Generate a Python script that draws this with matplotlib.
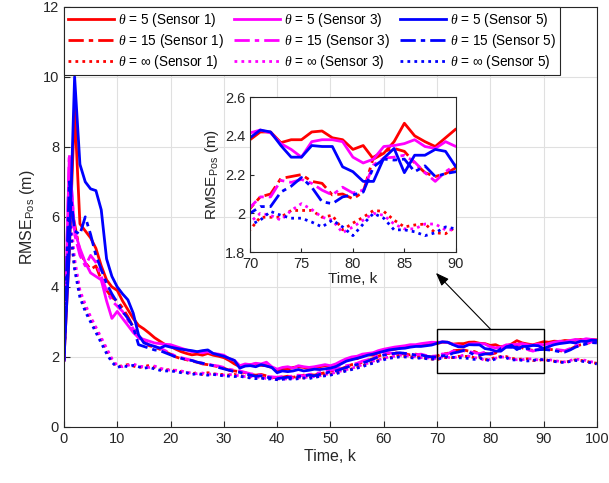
import matplotlib
matplotlib.use('Agg')
import matplotlib.pyplot as plt
from matplotlib.patches import Rectangle
import numpy as np

plt.rcParams['font.family'] = ['Liberation Sans', 'DejaVu Sans']
plt.rcParams['mathtext.fontset'] = 'custom'
plt.rcParams['mathtext.rm'] = 'Liberation Sans'
plt.rcParams['mathtext.it'] = 'Liberation Serif:italic'
plt.rcParams['mathtext.fallback'] = 'stix'

k = np.arange(0, 101)

# theta = 5
rs = [1.9, 5.0, 9.1, 5.8, 5.6, 5.4, 5.1, 4.6, 4.2, 4.0,
      3.9, 3.6, 3.35, 3.1, 2.9, 2.8, 2.68, 2.55, 2.45, 2.35,
      2.3, 2.22, 2.15, 2.1, 2.06, 2.08, 2.05, 2.1, 2.05, 2.02,
      1.98, 1.9, 1.8, 1.72, 1.75, 1.78, 1.8, 1.76, 1.75, 1.7,
      1.62, 1.66, 1.65, 1.7, 1.72, 1.7, 1.66, 1.7, 1.72, 1.75,
      1.72, 1.76, 1.85, 1.9, 1.95, 1.95, 2.02, 2.06, 2.05, 2.12,
      2.18, 2.2, 2.22, 2.25, 2.3, 2.3, 2.32, 2.36, 2.35, 2.37,
      2.38, 2.42, 2.42, 2.365, 2.38, 2.38, 2.42, 2.425, 2.39, 2.38,
      2.33, 2.35, 2.28, 2.31, 2.37, 2.465, 2.40, 2.37, 2.345, 2.39, 2.435,
      2.42, 2.45, 2.44, 2.47, 2.46, 2.48, 2.5, 2.47, 2.5, 2.49]
ms = [1.9, 7.7, 5.6, 5.1, 4.7, 4.4, 4.3, 4.2, 3.6, 3.1,
      3.3, 3.1, 2.9, 2.7, 2.55, 2.5, 2.45, 2.4, 2.38, 2.36,
      2.35, 2.3, 2.25, 2.2, 2.15, 2.15, 2.12, 2.15, 2.1, 2.08,
      2.05, 1.95, 1.9, 1.75, 1.8, 1.78, 1.82, 1.8, 1.85, 1.72,
      1.65, 1.7, 1.72, 1.68, 1.75, 1.72, 1.7, 1.72, 1.75, 1.78,
      1.75, 1.8, 1.88, 1.95, 2.0, 2.02, 2.08, 2.1, 2.12, 2.18,
      2.22, 2.25, 2.28, 2.3, 2.32, 2.35, 2.35, 2.38, 2.4, 2.42,
      2.415, 2.43, 2.415, 2.36, 2.33, 2.29, 2.37, 2.38, 2.38, 2.37,
      2.29, 2.26, 2.28, 2.345, 2.35, 2.36, 2.38, 2.345, 2.335, 2.37, 2.345,
      2.38, 2.42, 2.45, 2.43, 2.47, 2.5, 2.48, 2.52, 2.5, 2.48]
bs = [1.9, 5.0, 10.0, 7.5, 7.0, 6.8, 6.75, 6.2, 4.8, 4.3,
      4.0, 3.8, 3.63, 3.25, 2.63, 2.4, 2.35, 2.3, 2.25, 2.32,
      2.28, 2.25, 2.22, 2.2, 2.18, 2.15, 2.18, 2.2, 2.1, 2.06,
      2.02, 1.96, 1.9, 1.68, 1.74, 1.75, 1.72, 1.78, 1.74, 1.7,
      1.55, 1.6, 1.58, 1.6, 1.64, 1.6, 1.62, 1.65, 1.64, 1.66,
      1.68, 1.72, 1.8, 1.88, 1.92, 1.96, 2.0, 2.05, 2.08, 2.12,
      2.16, 2.2, 2.22, 2.24, 2.25, 2.28, 2.3, 2.3, 2.32, 2.34,
      2.39, 2.43, 2.42, 2.35, 2.29, 2.29, 2.35, 2.345, 2.345, 2.24,
      2.215, 2.165, 2.165, 2.285, 2.335, 2.21, 2.30, 2.30, 2.33, 2.32, 2.24,
      2.3, 2.35, 2.38, 2.4, 2.42, 2.4, 2.45, 2.44, 2.48, 2.47]

# theta = 15
rd = [1.9, 6.5, 5.8, 5.0, 4.7, 4.5, 4.6, 4.2, 3.9, 3.7,
      3.6, 3.4, 3.15, 2.85, 2.6, 2.45, 2.32, 2.28, 2.22, 2.15,
      2.08, 2.0, 1.95, 1.92, 1.88, 1.85, 1.8, 1.78, 1.75, 1.72,
      1.68, 1.62, 1.6, 1.58, 1.55, 1.5, 1.48, 1.5, 1.46, 1.42,
      1.4, 1.42, 1.45, 1.42, 1.45, 1.48, 1.5, 1.48, 1.52, 1.55,
      1.6, 1.62, 1.66, 1.72, 1.78, 1.8, 1.85, 1.9, 1.95, 2.02,
      2.08, 2.1, 2.12, 2.1, 2.08, 2.06, 2.08, 2.05, 2.02, 2.0,
      2.025, 2.085, 2.10, 2.18, 2.19, 2.20, 2.165, 2.155, 2.095, 2.10,
      2.075, 2.11, 2.29, 2.32, 2.335, 2.32, 2.26, 2.21, 2.19, 2.205, 2.235,
      2.22, 2.2, 2.18, 2.16, 2.22, 2.3, 2.35, 2.38, 2.42, 2.44]
md = [1.9, 7.8, 5.5, 4.9, 4.6, 4.9, 4.7, 4.3, 3.9, 3.6,
      3.45, 3.3, 3.05, 2.8, 2.55, 2.42, 2.35, 2.3, 2.25, 2.18,
      2.1, 2.02, 1.98, 1.94, 1.9, 1.86, 1.82, 1.8, 1.76, 1.74,
      1.7, 1.65, 1.62, 1.6, 1.56, 1.52, 1.5, 1.48, 1.45, 1.43,
      1.42, 1.44, 1.43, 1.46, 1.48, 1.46, 1.5, 1.52, 1.55, 1.58,
      1.62, 1.65, 1.7, 1.75, 1.78, 1.82, 1.88, 1.92, 1.98, 2.04,
      2.1, 2.12, 2.1, 2.12, 2.1, 2.08, 2.06, 2.08, 2.04, 2.02,
      2.03, 2.085, 2.085, 2.17, 2.16, 2.175, 2.155, 2.12, 2.095, 2.135,
      2.105, 2.12, 2.25, 2.285, 2.29, 2.30, 2.265, 2.21, 2.165, 2.215, 2.25,
      2.24, 2.22, 2.2, 2.18, 2.24, 2.32, 2.36, 2.4, 2.43, 2.42]
bd = [1.9, 7.0, 5.6, 5.5, 6.0, 5.5, 4.9, 4.5, 4.1, 3.8,
      3.55, 3.3, 3.1, 2.85, 2.35, 2.3, 2.25, 2.2, 2.18, 2.12,
      2.06, 2.0, 1.96, 1.92, 1.9, 1.85, 1.82, 1.78, 1.75, 1.7,
      1.66, 1.62, 1.58, 1.56, 1.52, 1.48, 1.45, 1.46, 1.42, 1.4,
      1.38, 1.4, 1.42, 1.4, 1.44, 1.46, 1.48, 1.46, 1.5, 1.53,
      1.58, 1.6, 1.65, 1.7, 1.75, 1.78, 1.82, 1.88, 1.94, 2.0,
      2.05, 2.08, 2.1, 2.12, 2.1, 2.08, 2.05, 2.06, 2.02, 2.0,
      2.00, 2.035, 2.035, 2.11, 2.14, 2.185, 2.135, 2.06, 2.05, 2.085,
      2.095, 2.11, 2.24, 2.28, 2.275, 2.28, 2.215, 2.245, 2.19, 2.205, 2.215,
      2.2, 2.18, 2.15, 2.14, 2.2, 2.28, 2.33, 2.37, 2.41, 2.4]

# theta = inf
rt = [1.9, 5.8, 4.6, 3.8, 3.4, 3.1, 2.8, 2.5, 2.2, 1.9,
      1.72, 1.75, 1.78, 1.74, 1.7, 1.72, 1.76, 1.7, 1.66, 1.62,
      1.65, 1.6, 1.58, 1.55, 1.52, 1.55, 1.5, 1.55, 1.52, 1.5,
      1.5, 1.48, 1.5, 1.46, 1.45, 1.42, 1.44, 1.4, 1.42, 1.38,
      1.36, 1.38, 1.4, 1.38, 1.42, 1.4, 1.44, 1.42, 1.45, 1.48,
      1.5, 1.55, 1.58, 1.62, 1.66, 1.7, 1.75, 1.8, 1.85, 1.9,
      1.95, 1.98, 2.0, 2.04, 2.02, 2.0, 1.98, 2.0, 1.96, 1.94,
      1.915, 1.98, 1.98, 1.98, 2.015, 2.015, 2.015, 1.98, 1.99, 1.915,
      1.95, 1.98, 2.015, 2.01, 1.965, 1.93, 1.94, 1.945, 1.90, 1.895, 1.93,
      1.9, 1.88, 1.86, 1.85, 1.88, 1.92, 1.9, 1.88, 1.84, 1.82]
mt = [1.9, 6.4, 4.8, 3.9, 3.5, 3.15, 2.85, 2.55, 2.25, 1.95,
      1.75, 1.72, 1.76, 1.8, 1.74, 1.72, 1.7, 1.74, 1.68, 1.64,
      1.62, 1.62, 1.6, 1.56, 1.54, 1.52, 1.54, 1.5, 1.52, 1.5,
      1.48, 1.5, 1.48, 1.46, 1.44, 1.44, 1.42, 1.42, 1.38, 1.4,
      1.38, 1.36, 1.38, 1.4, 1.4, 1.42, 1.42, 1.44, 1.46, 1.5,
      1.52, 1.56, 1.6, 1.64, 1.68, 1.72, 1.78, 1.82, 1.88, 1.92,
      1.96, 2.0, 2.02, 2.05, 2.04, 2.02, 2.0, 1.98, 1.98, 1.96,
      1.955, 2.00, 1.99, 1.965, 2.015, 2.05, 2.02, 1.98, 1.965, 1.90,
      1.93, 1.965, 2.00, 1.99, 1.945, 1.92, 1.92, 1.945, 1.945, 1.915, 1.915,
      1.92, 1.9, 1.87, 1.86, 1.9, 1.94, 1.92, 1.9, 1.86, 1.84]
bt = [1.9, 6.0, 4.5, 3.7, 3.3, 3.0, 2.7, 2.4, 2.1, 1.85,
      1.7, 1.75, 1.72, 1.76, 1.72, 1.68, 1.7, 1.66, 1.62, 1.6,
      1.6, 1.58, 1.55, 1.55, 1.5, 1.52, 1.5, 1.48, 1.5, 1.48,
      1.46, 1.45, 1.44, 1.45, 1.42, 1.4, 1.38, 1.4, 1.36, 1.38,
      1.35, 1.36, 1.38, 1.36, 1.38, 1.4, 1.38, 1.42, 1.44, 1.46,
      1.48, 1.52, 1.56, 1.6, 1.64, 1.68, 1.72, 1.78, 1.82, 1.88,
      1.92, 1.96, 1.98, 2.0, 2.0, 1.98, 1.96, 1.97, 1.95, 1.94,
      1.94, 1.965, 2.01, 1.99, 1.975, 1.975, 1.955, 1.93, 1.965, 1.93,
      1.885, 1.945, 2.00, 1.975, 1.915, 1.915, 1.905, 1.885, 1.90, 1.93, 1.92,
      1.9, 1.87, 1.85, 1.84, 1.87, 1.9, 1.88, 1.86, 1.83, 1.8]

labels = [r'$\theta$ = 5 (Sensor 1)', r'$\theta$ = 15 (Sensor 1)', r'$\theta$ = $\infty$ (Sensor 1)',
          r'$\theta$ = 5 (Sensor 3)', r'$\theta$ = 15 (Sensor 3)', r'$\theta$ = $\infty$ (Sensor 3)',
          r'$\theta$ = 5 (Sensor 5)', r'$\theta$ = 15 (Sensor 5)', r'$\theta$ = $\infty$ (Sensor 5)']
series = [rs, rd, rt, ms, md, mt, bs, bd, bt]
colors = ['#ff0000'] * 3 + ['#ff00ff'] * 3 + ['#0000ff'] * 3
# matlab-like line styles: solid, dash-dot, dotted
styles = ['-', (0, (5.5, 1.8, 1.6, 1.8)), (0, (1, 1.5))] * 3

txt = '#262626'
fig = plt.figure(figsize=(6.09, 4.83), dpi=100)
ax = fig.add_axes([0.105, 0.116, 0.875, 0.870])
for y, c, ls, lab in zip(series, colors, styles, labels):
    ax.plot(k, y, color=c, ls=ls, lw=2, label=lab)
ax.set_xlim(0, 100)
ax.set_ylim(0, 12)
ax.set_xticks(np.arange(0, 101, 10))
ax.set_yticks(np.arange(0, 13, 2))
ax.grid(True, color='#e0e0e0', lw=0.8)
ax.tick_params(direction='in', labelsize=10.5, colors=txt, length=4)
for s in ax.spines.values():
    s.set_color(txt)
ax.set_xlabel('Time, k', fontsize=11.5, color=txt, labelpad=2)
ax.set_ylabel(r'RMSE$_{\mathrm{Pos}}$ (m)', fontsize=11.5, color=txt, labelpad=4)

leg = ax.legend(loc='upper left', ncol=3, fontsize=9.8, handlelength=3.4,
                fancybox=False, framealpha=1, edgecolor='#262626',
                borderaxespad=0.0, columnspacing=0.7, handletextpad=0.3,
                labelspacing=0.22, borderpad=0.3)
leg.get_frame().set_linewidth(0.8)

ax.add_patch(Rectangle((70, 1.55), 20, 1.25, fill=False, ec='k', lw=1, zorder=5))
ax.annotate('', xy=(69.8, 4.4), xytext=(80, 2.8),
            arrowprops=dict(arrowstyle='-|>,head_length=0.8,head_width=0.3',
                            color='k', lw=0.8, shrinkA=0, shrinkB=0))

ins = fig.add_axes([0.4105, 0.478, 0.338, 0.321])
for y, c, ls in zip(series, colors, styles):
    ins.plot(k, y, color=c, ls=ls, lw=2)
ins.set_xlim(70, 90)
ins.set_ylim(1.8, 2.6)
ins.set_xticks([70, 75, 80, 85, 90])
ins.set_yticks([1.8, 2.0, 2.2, 2.4, 2.6])
ins.set_yticklabels(['1.8', '2', '2.2', '2.4', '2.6'])
ins.tick_params(direction='in', labelsize=10.5, colors=txt, length=3)
for s in ins.spines.values():
    s.set_color(txt)
ins.set_xlabel('Time, k', fontsize=11, color=txt, labelpad=1)
ins.set_ylabel(r'RMSE$_{\mathrm{Pos}}$ (m)', fontsize=11, color=txt, labelpad=3)

fig.savefig('out.png', dpi=100)
